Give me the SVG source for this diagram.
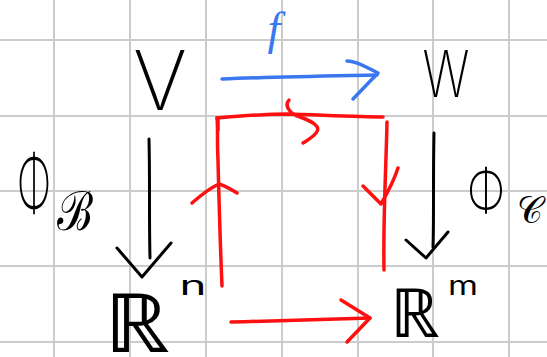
<svg xmlns="http://www.w3.org/2000/svg" width="547" height="357" viewBox="0 0 547 357">
  <style>
    .grid line { stroke: #cccccc; stroke-width: 2; }
    .ink { fill: none; stroke-linecap: round; stroke-linejoin: round; }
    .k { stroke: #000000; stroke-width: 3; }
    .r { stroke: #ff1010; stroke-width: 3.5; }
    .b { stroke: #3a78f0; stroke-width: 3.5; }
    .lbl { font-family: Inter, "DejaVu Sans", sans-serif; font-weight: 200; fill: #000000; text-anchor: middle; }
    .sup { font-family: Inter, "DejaVu Sans", sans-serif; font-weight: 400; fill: #000000; text-anchor: middle; }
    .math { font-family: "DejaVu Sans", "Noto Sans", sans-serif; font-weight: 200; fill: #000000; text-anchor: middle; }
  </style>

  <rect width="547" height="357" fill="#ffffff"/>

  <!-- squared paper -->
  <g class="grid">
    <line x1="54" y1="0" x2="54" y2="357"/>
    <line x1="130" y1="0" x2="130" y2="357"/>
    <line x1="206" y1="0" x2="206" y2="357"/>
    <line x1="282" y1="0" x2="282" y2="357"/>
    <line x1="358" y1="0" x2="358" y2="357"/>
    <line x1="433" y1="0" x2="433" y2="357"/>
    <line x1="509" y1="0" x2="509" y2="357"/>
    <line x1="0" y1="40" x2="547" y2="40"/>
    <line x1="0" y1="116" x2="547" y2="116"/>
    <line x1="0" y1="191" x2="547" y2="191"/>
    <line x1="0" y1="266" x2="547" y2="266"/>
    <line x1="0" y1="342" x2="547" y2="342"/>
  </g>

  <!-- spaces -->
  <g id="node-V">
    <text class="lbl" x="160" y="110" font-size="82" textLength="54" lengthAdjust="spacingAndGlyphs">V</text>
  </g>
  <g id="node-W">
    <text class="lbl" x="446" y="97" font-size="64" textLength="47" lengthAdjust="spacingAndGlyphs">W</text>
  </g>
  <g id="node-Rn">
    <text class="math" x="137" y="352" font-size="82" textLength="66" lengthAdjust="spacingAndGlyphs">ℝ</text>
    <text class="sup" x="193" y="295" font-size="26" textLength="27" lengthAdjust="spacingAndGlyphs">n</text>
  </g>
  <g id="node-Rm">
    <text class="math" x="415" y="337" font-size="68" textLength="50" lengthAdjust="spacingAndGlyphs">ℝ</text>
    <text class="sup" x="463" y="295" font-size="26" textLength="30" lengthAdjust="spacingAndGlyphs">m</text>
  </g>

  <!-- arrows -->
  <g id="connectors" class="ink">
    <!-- f : V -> W -->
    <path class="b" d="M222,79 C270,77 330,76 377,75"/>
    <path class="b" d="M347,61 C352,61 357,62 378,73 L353,99"/>

    <!-- coordinate map on V -->
    <path class="k" d="M149,139 C150,180 149,220 150,258"/>
    <path class="k" d="M117,248 L142,277 L171,243"/>

    <!-- coordinate map on W -->
    <path class="k" d="M434,133 C433,180 434,220 433,247"/>
    <path class="k" d="M406,240 L426,258 L448,232"/>

    <!-- detour: up, across, down -->
    <path class="r" d="M222,286 C220,240 219,200 218,160 C217,140 218,125 217,118"/>
    <path class="r" d="M217,118 C240,116 270,114 287,114 C320,115 360,117 383,117"/>
    <path class="r" d="M289,100 C284,106 290,114 300,117 C312,121 322,127 316,133 C312,138 306,141 303,143"/>
    <path class="r" d="M387,122 C386,170 383,220 384,270"/>
    <path class="r" d="M218,119 L218,130" stroke-width="5"/>
    <path class="r" d="M192,203 C200,196 210,188 219,184" stroke-width="6"/>
    <path class="r" d="M219,184 C226,186 232,190 237,193"/>
    <path class="r" d="M363,186 L381,204 C388,192 394,180 398,168"/>

    <!-- matrix map R^n -> R^m -->
    <path class="r" d="M231,322 C280,321 330,319 370,318"/>
    <path class="r" d="M341,300 L370,318 L347,342"/>
  </g>

  <!-- arrow labels -->
  <g id="label-f">
    <text x="274" y="44" font-family="'Liberation Serif', serif" font-style="italic" font-size="46" fill="#3a78f0" text-anchor="middle">f</text>
  </g>
  <g id="label-phiB">
    <text class="lbl" x="34" y="212" font-size="80" textLength="34" lengthAdjust="spacingAndGlyphs">Φ</text>
    <text class="math" x="75" y="230" font-size="54" textLength="36" lengthAdjust="spacingAndGlyphs">ℬ</text>
  </g>
  <g id="label-phiC">
    <text class="lbl" x="486" y="212" font-size="60" textLength="38" lengthAdjust="spacingAndGlyphs">Φ</text>
    <text class="math" x="530" y="223" font-size="38" textLength="26" lengthAdjust="spacingAndGlyphs">𝒞</text>
  </g>
</svg>
